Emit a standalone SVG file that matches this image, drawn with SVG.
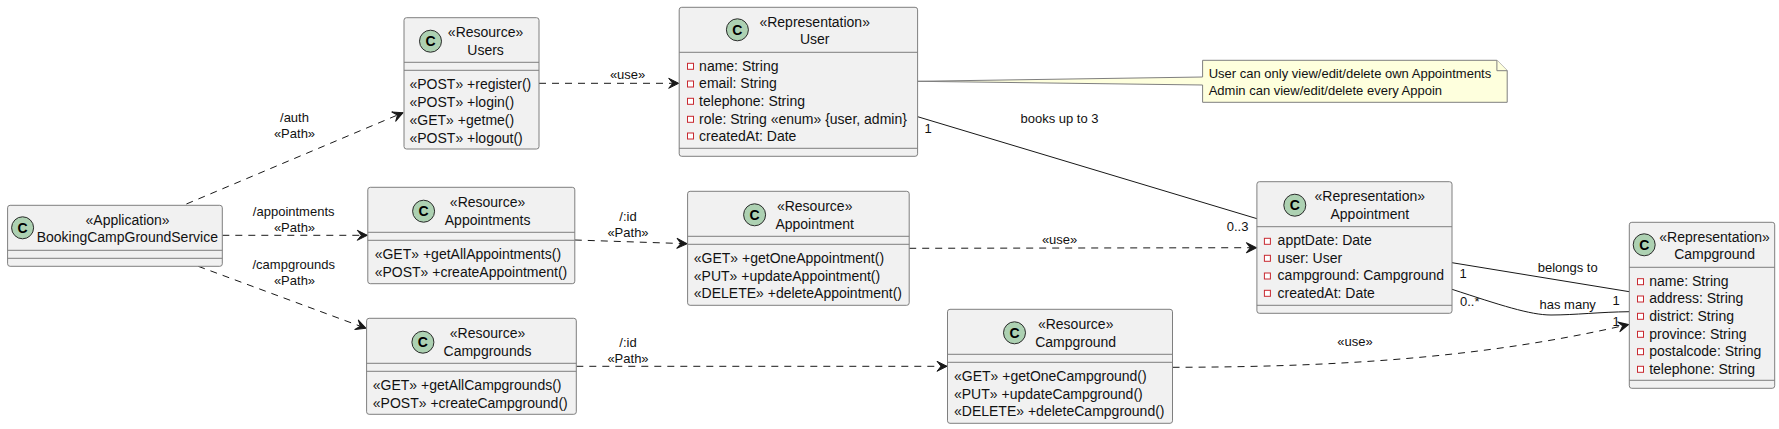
<svg xmlns="http://www.w3.org/2000/svg" width="1779" height="429" viewBox="0 0 1779 429">
<style>
text{font-family:"Liberation Sans",Arial,sans-serif;font-size:14px;fill:#111}
.m{text-anchor:middle}
.l{font-size:13px}
.box{fill:#F1F1F1;stroke:#7f7f7f;stroke-width:1}
.sep{stroke:#7f7f7f;stroke-width:1;fill:none}
.spot{fill:#ADD1B2;stroke:#2a2a2a;stroke-width:1}
.c{font-weight:bold;font-size:14px;text-anchor:middle;fill:#000}
.vis{fill:#fff;stroke:#C82930;stroke-width:1}
.dash{fill:none;stroke:#181818;stroke-width:1;stroke-dasharray:7 6;marker-end:url(#arrow)}
.solid{fill:none;stroke:#181818;stroke-width:1}
.note{fill:#FEFFDD;stroke:#7f7f7f;stroke-width:1}
</style>
<defs>
<marker id="arrow" markerUnits="userSpaceOnUse" markerWidth="14" markerHeight="14" viewBox="-12 -7 14 14" refX="0" refY="0" orient="auto">
<path d="M0,0 L-10,-5 L-6,0 L-10,5 Z" fill="#181818" stroke="#181818" stroke-width="1" stroke-linejoin="round"/>
</marker>
</defs>

<g id="connectors">
<path class="dash" d="M186.4,204 L403,112.7"/>
<path class="dash" d="M222.3,235.3 L367.3,235.3"/>
<path class="dash" d="M198.2,266.3 L366,328.3"/>
<path class="dash" d="M539,83.3 L678.7,83.3"/>
<path class="dash" d="M574.8,240 L687,243.7"/>
<path class="dash" d="M576.3,366.3 L947,366.3"/>
<path class="dash" d="M909.2,248.3 L1256.4,247.7"/>
<path class="dash" d="M1172.5,367.3 C1330,367 1480,359 1628.5,324.5"/>
<path class="solid" d="M917.6,116.7 L1257,218.7"/>
<path class="solid" d="M1452,262.7 L1629.3,291.7"/>
<path class="solid" d="M1452,289.3 C1500,305 1530,315 1551,315 C1575,315 1600,312 1629.3,311.7"/>
<text class="l m" x="294.5" y="122">/auth</text>
<text class="l m" x="294.5" y="138">«Path»</text>
<text class="l m" x="293.7" y="216">/appointments</text>
<text class="l m" x="294.5" y="232">«Path»</text>
<text class="l m" x="293.7" y="268.7">/campgrounds</text>
<text class="l m" x="294.5" y="285">«Path»</text>
<text class="l m" x="627.6" y="79">«use»</text>
<text class="l m" x="628" y="221">/:id</text>
<text class="l m" x="628" y="237">«Path»</text>
<text class="l m" x="628" y="347">/:id</text>
<text class="l m" x="628" y="363">«Path»</text>
<text class="l m" x="1059.5" y="122.7">books up to 3</text>
<text class="l m" x="928" y="133">1</text>
<text class="l m" x="1059.6" y="244.3">«use»</text>
<text class="l" x="1226.7" y="230.7">0..3</text>
<text class="l m" x="1567.7" y="272.3">belongs to</text>
<text class="l m" x="1463.2" y="277.7">1</text>
<text class="l m" x="1616.2" y="305.3">1</text>
<text class="l m" x="1567.7" y="309">has many</text>
<text class="l" x="1460" y="306">0..*</text>
<text class="l m" x="1616.2" y="325.7">1</text>
<text class="l m" x="1355" y="346">«use»</text>
</g>

<g id="note">
<path class="note" d="M1202.6,60.3 L1496.9,60.3 L1507.2,70.7 L1507.2,102.3 L1202.6,102.3 L1202.6,85 L917.6,81.3 L1202.6,77 Z"/>
<path class="note" d="M1496.9,60.3 L1496.9,70.7 L1507.2,70.7"/>
<text class="l" x="1208.7" y="78">User can only view/edit/delete own Appointments</text>
<text class="l" x="1208.7" y="95.3">Admin can view/edit/delete every Appoin</text>
</g>

<g id="BookingCampGroundService">
<rect class="box" x="7.6" y="205.3" width="214.7" height="61" rx="2.5"/>
<path class="sep" d="M7.6,250.3 H222.3 M7.6,258.3 H222.3"/>
<circle class="spot" cx="22.6" cy="227.8" r="11"/><text class="c" x="22.6" y="232.8">C</text>
<text class="m" x="127.6" y="225">«Application»</text>
<text class="m" x="127.3" y="241.7">BookingCampGroundService</text>
</g>

<g id="Users">
<rect class="box" x="404" y="17.7" width="135" height="131.3" rx="2.5"/>
<path class="sep" d="M404,62.3 H539 M404,70.3 H539"/>
<circle class="spot" cx="430.5" cy="41.2" r="11"/><text class="c" x="430.5" y="46.2">C</text>
<text class="m" x="485.6" y="37">«Resource»</text>
<text class="m" x="485.6" y="55">Users</text>
<text x="409.5" y="89.3">«POST» +register()</text>
<text x="409.5" y="107.3">«POST» +login()</text>
<text x="409.5" y="124.7">«GET» +getme()</text>
<text x="409.5" y="142.7">«POST» +logout()</text>
</g>

<g id="Appointments">
<rect class="box" x="367.8" y="187.3" width="207" height="96.4" rx="2.5"/>
<path class="sep" d="M367.8,232.3 H574.8 M367.8,240.3 H574.8"/>
<circle class="spot" cx="423.6" cy="211.2" r="11"/><text class="c" x="423.6" y="216.2">C</text>
<text class="m" x="487.6" y="207.3">«Resource»</text>
<text class="m" x="487.6" y="225.3">Appointments</text>
<text x="374.7" y="259.3">«GET» +getAllAppointments()</text>
<text x="374.7" y="277.3">«POST» +createAppointment()</text>
</g>

<g id="Campgrounds">
<rect class="box" x="366.6" y="318.3" width="209.7" height="96" rx="2.5"/>
<path class="sep" d="M366.6,363.3 H576.3 M366.6,371.3 H576.3"/>
<circle class="spot" cx="422.9" cy="342.2" r="11"/><text class="c" x="422.9" y="347.2">C</text>
<text class="m" x="487.5" y="338.3">«Resource»</text>
<text class="m" x="487.5" y="356.3">Campgrounds</text>
<text x="372.8" y="390.3">«GET» +getAllCampgrounds()</text>
<text x="372.8" y="408.3">«POST» +createCampground()</text>
</g>

<g id="UserRepresentation">
<rect class="box" x="679.2" y="7.3" width="238.4" height="149" rx="2.5"/>
<path class="sep" d="M679.2,52.3 H917.6 M679.2,148.3 H917.6"/>
<circle class="spot" cx="737.4" cy="29.8" r="11"/><text class="c" x="737.4" y="34.8">C</text>
<text class="m" x="814.7" y="27">«Representation»</text>
<text class="m" x="814.7" y="44">User</text>
<rect class="vis" x="687.5" y="63.3" width="6" height="6"/><text x="699.1" y="71">name: String</text>
<rect class="vis" x="687.5" y="81" width="6" height="6"/><text x="699.1" y="88.3">email: String</text>
<rect class="vis" x="687.5" y="98.3" width="6" height="6"/><text x="699.1" y="106">telephone: String</text>
<rect class="vis" x="687.5" y="116.3" width="6" height="6"/><text x="699.1" y="123.7">role: String «enum» {user, admin}</text>
<rect class="vis" x="687.5" y="133" width="6" height="6"/><text x="699.1" y="141">createdAt: Date</text>
</g>

<g id="AppointmentResource">
<rect class="box" x="687.6" y="191.3" width="221.6" height="114" rx="2.5"/>
<path class="sep" d="M687.6,236.3 H909.2 M687.6,244.3 H909.2"/>
<circle class="spot" cx="754.6" cy="214.8" r="11"/><text class="c" x="754.6" y="219.8">C</text>
<text class="m" x="814.7" y="211.3">«Resource»</text>
<text class="m" x="814.7" y="229.3">Appointment</text>
<text x="693.8" y="263.3">«GET» +getOneAppointment()</text>
<text x="693.8" y="281">«PUT» +updateAppointment()</text>
<text x="693.8" y="298.3">«DELETE» +deleteAppointment()</text>
</g>

<g id="CampgroundResource">
<rect class="box" x="947.5" y="309.3" width="225" height="114" rx="2.5"/>
<path class="sep" d="M947.5,354.3 H1172.5 M947.5,362.3 H1172.5"/>
<circle class="spot" cx="1014.5" cy="332.8" r="11"/><text class="c" x="1014.5" y="337.8">C</text>
<text class="m" x="1075.7" y="329.3">«Resource»</text>
<text class="m" x="1075.7" y="347.3">Campground</text>
<text x="954" y="381">«GET» +getOneCampground()</text>
<text x="954" y="399">«PUT» +updateCampground()</text>
<text x="954" y="416.3">«DELETE» +deleteCampground()</text>
</g>

<g id="AppointmentRepresentation">
<rect class="box" x="1256.9" y="181.7" width="195.1" height="131.6" rx="2.5"/>
<path class="sep" d="M1256.9,226.7 H1452 M1256.9,305.3 H1452"/>
<circle class="spot" cx="1294.8" cy="205.2" r="11"/><text class="c" x="1294.8" y="210.2">C</text>
<text class="m" x="1369.8" y="201.3">«Representation»</text>
<text class="m" x="1369.8" y="219.3">Appointment</text>
<rect class="vis" x="1264.4" y="238.3" width="6" height="6"/><text x="1277.6" y="245">apptDate: Date</text>
<rect class="vis" x="1264.4" y="255.3" width="6" height="6"/><text x="1277.6" y="263">user: User</text>
<rect class="vis" x="1264.4" y="273" width="6" height="6"/><text x="1277.6" y="280.3">campground: Campground</text>
<rect class="vis" x="1264.4" y="290.3" width="6" height="6"/><text x="1277.6" y="298">createdAt: Date</text>
</g>

<g id="CampgroundRepresentation">
<rect class="box" x="1629.3" y="222.3" width="145.4" height="166" rx="2.5"/>
<path class="sep" d="M1629.3,267.3 H1774.7 M1629.3,380.3 H1774.7"/>
<circle class="spot" cx="1644.2" cy="244.8" r="11"/><text class="c" x="1644.2" y="249.8">C</text>
<text class="m" x="1714.6" y="242">«Representation»</text>
<text class="m" x="1714.6" y="259">Campground</text>
<rect class="vis" x="1637.5" y="278.7" width="6" height="6"/><text x="1649.2" y="286">name: String</text>
<rect class="vis" x="1637.5" y="296" width="6" height="6"/><text x="1649.2" y="303.3">address: String</text>
<rect class="vis" x="1637.5" y="313.3" width="6" height="6"/><text x="1649.2" y="321">district: String</text>
<rect class="vis" x="1637.5" y="331.3" width="6" height="6"/><text x="1649.2" y="339">province: String</text>
<rect class="vis" x="1637.5" y="348.7" width="6" height="6"/><text x="1649.2" y="356">postalcode: String</text>
<rect class="vis" x="1637.5" y="366.3" width="6" height="6"/><text x="1649.2" y="374">telephone: String</text>
</g>
</svg>
